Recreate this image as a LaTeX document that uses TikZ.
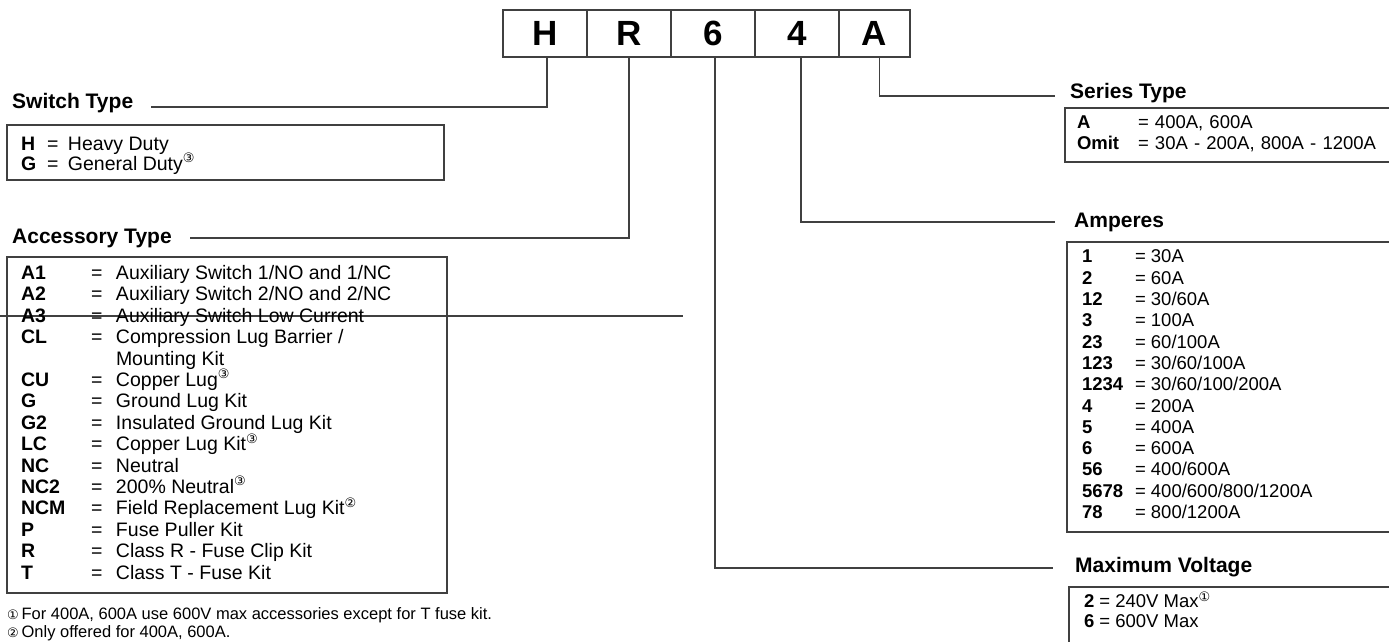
\documentclass[tikz,border=0pt]{standalone}
\usepackage{fontspec}
\usepackage{array}
\setmainfont{Liberation Sans}
\newfontfamily\cfont{DejaVu Sans}
\usetikzlibrary{positioning}
\newcommand\notemark[1]{\smash{\textsuperscript{\cfont\fontsize{13}{13}\selectfont #1}}}
\begin{document}
\begin{tikzpicture}[x=1pt, y=-1pt,
	ink/.style={draw=black!75, line width=1.2pt},
	digit/.style={ink, minimum height=47pt, inner sep=0pt, outer sep=0pt, font=\fontsize{35}{35}\selectfont\bfseries},
	head/.style={anchor=base west, inner sep=2pt, font=\fontsize{21}{21}\selectfont\bfseries},
	keybox/.style={ink, anchor=north west, outer sep=0pt, inner xsep=14pt, align=left},
	leftrows/.style={font=\fontsize{19.5}{21.4}\selectfont},
	rightrows/.style={font=\fontsize{18.5}{21.3}\selectfont},
	link/.style={draw=black!75, line width=1.1pt},
	fnote/.style={anchor=west, inner sep=0pt, font=\fontsize{16.5}{16.5}\selectfont}]
	\clip (0,0) rectangle (1389,642);

	\node[digit, minimum width=84pt, anchor=north west] (cH) at (503,10) {H};
	\node[digit, minimum width=84pt, right=0pt of cH] (cR) {R};
	\node[digit, minimum width=84pt, right=0pt of cR] (c6) {6};
	\node[digit, minimum width=84pt, right=0pt of c6] (c4) {4};
	\node[digit, minimum width=71pt, right=0pt of c4] (cA) {A};

	\node[head] (swt) at (10,108) {Switch Type};
	\node[head] (acct) at (10,243) {Accessory Type};
	\node[head] (sert) at (1068,99) {Series Type};
	\node[head] (ampt) at (1072,227) {Amperes};
	\node[head] (volt) at (1073,572) {Maximum Voltage};

	\draw[link] ([xshift=2pt]cH.south) |- ([xshift=16pt, yshift=1pt]swt.base east);
	\draw[link] (cR.south) |- ([xshift=16pt, yshift=5pt]acct.base east);
	\draw[link] ([xshift=5pt]cA.south) |- ([xshift=-13pt, yshift=3pt]sert.base west);
	\draw[link] ([xshift=4pt]c4.south) |- ([xshift=-17pt, yshift=5pt]ampt.base west);
	\draw[link] ([xshift=2pt]c6.south) |- ([xshift=-20pt, yshift=4pt]volt.base west);

	\coordinate (strayL) at (0,316);
	\coordinate (strayR) at (683,316);
	\draw[link] (strayL) -- (strayR);

	\node[keybox, font=\fontsize{19.5}{20}\selectfont, inner ysep=11pt] (swbox) at (7,125) {%
		\parbox[c][33pt][t]{409pt}{%
		\begin{tabular}{@{}>{\bfseries}p{26pt}@{}p{21pt}@{}l@{}}
			H & = & Heavy Duty \\
			G & = & General Duty\notemark{③}
		\end{tabular}}};

	\node[keybox, leftrows, inner ysep=7.5pt] (accbox) at (7,257) {%
		\parbox[c][321pt][t]{412pt}{%
		\begin{tabular}{@{}>{\bfseries}p{70pt}@{}p{25pt}@{}l@{}}
			A1 & = & Auxiliary Switch 1/NO and 1/NC \\
			A2 & = & Auxiliary Switch 2/NO and 2/NC \\
			A3 & = & Auxiliary Switch Low Current \\
			CL & = & Compression Lug Barrier / \\
			& & Mounting Kit \\
			CU & = & Copper Lug\notemark{③} \\
			G & = & Ground Lug Kit \\
			G2 & = & Insulated Ground Lug Kit \\
			LC & = & Copper Lug Kit\notemark{③} \\
			NC & = & Neutral \\
			NC2 & = & 200\% Neutral\notemark{③} \\
			NCM & = & Field Replacement Lug Kit\notemark{②} \\
			P & = & Fuse Puller Kit \\
			R & = & Class R - Fuse Clip Kit \\
			T & = & Class T - Fuse Kit
		\end{tabular}}};

	\node[keybox, rightrows, text width=320pt, minimum height=54pt, inner xsep=12pt, inner ysep=0pt] (serbox) at (1065,108) {%
		\begin{tabular}{@{}>{\bfseries}p{61pt}@{}l@{}}
			A & = 400A, 600A \\
			Omit & = 30A - 200A, 800A - 1200A
		\end{tabular}};

	\node[keybox, rightrows, inner xsep=15pt, inner ysep=6pt] (ampbox) at (1067,242) {%
		\parbox[c][278pt][t]{320pt}{%
		\begin{tabular}{@{}>{\bfseries}p{53pt}@{}l@{}}
			1 & = 30A \\
			2 & = 60A \\
			12 & = 30/60A \\
			3 & = 100A \\
			23 & = 60/100A \\
			123 & = 30/60/100A \\
			1234 & = 30/60/100/200A \\
			4 & = 200A \\
			5 & = 400A \\
			6 & = 600A \\
			56 & = 400/600A \\
			5678 & = 400/600/800/1200A \\
			78 & = 800/1200A
		\end{tabular}}};

	\node[keybox, font=\fontsize{18.5}{20}\selectfont, inner xsep=15pt, inner ysep=8pt] (volbox) at (1069,587) {%
		\parbox[c][70pt][t]{320pt}{%
		\textbf{2} = 240V Max\notemark{①}\\
		\textbf{6} = 600V Max}};

	\node[fnote] (fn1) at (7,615) {{\cfont\fontsize{13}{13}\selectfont ①}\,For 400A, 600A use 600V max accessories except for T fuse kit.};
	\node[fnote] (fn2) at (7,633) {{\cfont\fontsize{13}{13}\selectfont ②}\,Only offered for 400A, 600A.};
\end{tikzpicture}
\end{document}
